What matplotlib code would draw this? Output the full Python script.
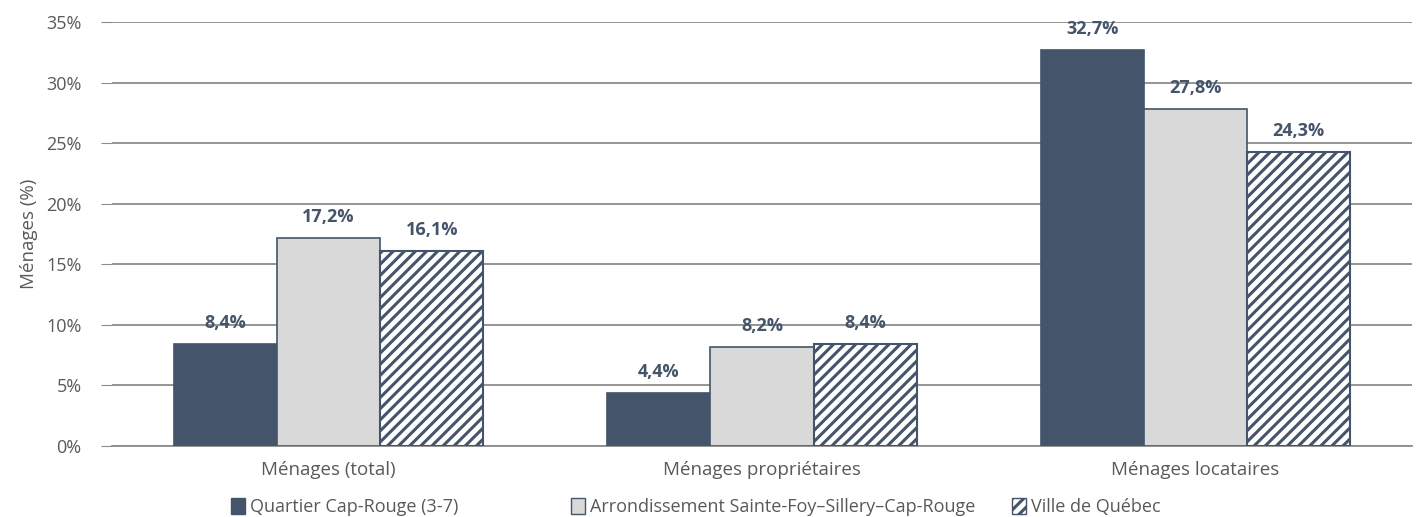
import matplotlib.pyplot as plt
import numpy as np
from matplotlib.patches import Patch

plt.rcParams["font.family"] = ["Open Sans", "DejaVu Sans"]

categories = ["Ménages (total)", "Ménages propriétaires", "Ménages locataires"]
series_names = [
    "Quartier Cap-Rouge (3-7)",
    "Arrondissement Sainte-Foy\u2013Sillery\u2013Cap-Rouge",
    "Ville de Québec",
]
cap_rouge = [8.4, 4.4, 32.7]
arrondissement = [17.2, 8.2, 27.8]
ville = [16.1, 8.4, 24.3]
y_ticks = [0, 5, 10, 15, 20, 25, 30, 35]

dark = "#44546A"
light = "#D9D9D9"
text_gray = "#595959"
grid_gray = "#8C8C8C"

W, H = 1421, 517
fig = plt.figure(figsize=(W / 100, H / 100), dpi=100)
ax = fig.add_axes([112 / W, 71 / H, 1300 / W, 424 / H])

x = np.arange(len(categories))
w = 0.238

plt.rcParams["hatch.linewidth"] = 2.2
plt.rcParams["hatch.color"] = dark
ax.bar(x - w, cap_rouge, w, color=dark, edgecolor=dark, linewidth=1.2, zorder=3)
ax.bar(x, arrondissement, w, color=light, edgecolor=dark, linewidth=1.2, zorder=3)
ax.bar(x + w, ville, w, color="white", edgecolor=dark, hatch="///",
       linewidth=1.5, zorder=3)

for vals, off in [(cap_rouge, -w), (arrondissement, 0), (ville, w)]:
    for xi, v in zip(x, vals):
        ax.text(xi + off, v + 1.0, f"{v:.1f}%".replace(".", ","),
                ha="center", va="bottom", fontsize=13, fontweight="bold",
                color=dark, zorder=4)

ax.set_xlim(-0.5, 2.5)
ax.set_ylim(0, 35)
ax.set_yticks(y_ticks)
ax.set_yticklabels([f"{t}%" for t in y_ticks])
ax.set_xticks(x)
ax.set_xticklabels(categories)
ax.tick_params(axis="y", length=8, color=grid_gray, labelcolor=text_gray,
               labelsize=13, pad=14)
ax.tick_params(axis="x", length=0, labelcolor=text_gray, labelsize=13.5, pad=11)
ax.grid(axis="y", color=grid_gray, linewidth=1.3, zorder=0)
for s in ["top", "right", "left"]:
    ax.spines[s].set_visible(False)
ax.spines["bottom"].set_color(grid_gray)
ax.spines["bottom"].set_linewidth(1.3)

ax.set_ylabel("Ménages (%)", color=text_gray, fontsize=13.5, labelpad=6)

# legend entries placed one by one, like the original
handles = [
    Patch(facecolor=dark, edgecolor=dark),
    Patch(facecolor=light, edgecolor=dark),
    Patch(facecolor="white", edgecolor=dark, hatch="///"),
]
legend_x = [231, 571, 1012]
for h, name, lx in zip(handles, series_names, legend_x):
    leg = fig.legend([h], [name], loc="center left",
                     bbox_to_anchor=(lx / W, 10 / H), frameon=False,
                     fontsize=13, labelcolor=text_gray, handlelength=0.75,
                     handleheight=1.0, handletextpad=0.3, borderpad=0,
                     borderaxespad=0)

fig.savefig("out.png", dpi=100)
